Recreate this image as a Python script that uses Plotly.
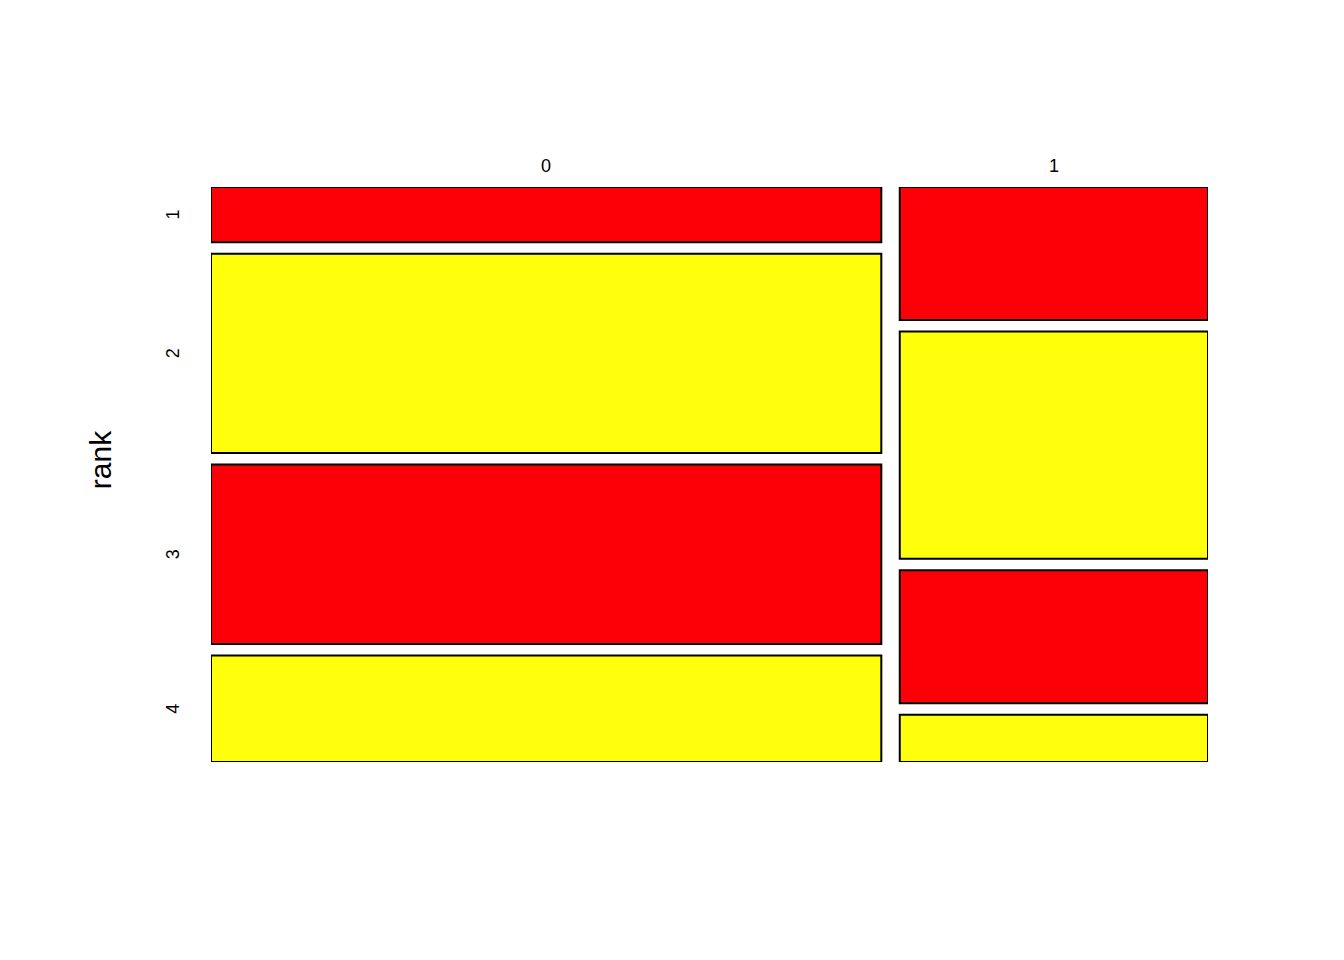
import plotly.graph_objects as go

# Data (read from the mosaic): rows = rank, columns = admit
admit_levels = ["0", "1"]
rank_levels = ["1", "2", "3", "4"]
counts_admit0 = [28, 101, 91, 54]
counts_admit1 = [31, 53, 31, 11]
fill_colors = ["#FD0007", "#FFFF0C", "#FD0007", "#FFFF0C"]

table = [counts_admit0, counts_admit1]
N = sum(sum(c) for c in table)
gap_x = 0.0185
gap_y = 0.02

fig = go.Figure()
annotations = []
x0 = 0.0
for j, col in enumerate(table):
    nj = sum(col)
    w = (1 - gap_x * (len(table) - 1)) * nj / N
    y_top = 1.0
    for i, c in enumerate(col):
        h = (1 - gap_y * (len(col) - 1)) * c / nj
        fig.add_trace(go.Bar(
            x=[x0 + w / 2], y=[h], base=[y_top - h], width=[w],
            marker=dict(color=fill_colors[i], line=dict(color="black", width=2)),
            showlegend=False, cliponaxis=False, hoverinfo="skip",
        ))
        if j == 0:
            annotations.append(dict(
                x=0, xref="paper", xshift=-38, y=y_top - h / 2, yref="y",
                text=rank_levels[i], showarrow=False, textangle=-90,
                font=dict(size=18, color="black"), xanchor="center", yanchor="middle",
            ))
        y_top -= h + gap_y
    annotations.append(dict(
        x=x0 + w / 2, xref="x", y=1, yref="paper", yshift=21,
        text=admit_levels[j], showarrow=False,
        font=dict(size=18, color="black"), xanchor="center", yanchor="middle",
    ))
    x0 += w + gap_x

annotations.append(dict(
    x=0, xref="paper", xshift=-111, y=0.525, yref="paper",
    text="rank", showarrow=False, textangle=-90,
    font=dict(size=30, color="black"), xanchor="center", yanchor="middle",
))

fig.update_layout(
    width=1344, height=960,
    margin=dict(l=211, r=136, t=187, b=198),
    paper_bgcolor="white", plot_bgcolor="white",
    barmode="overlay",
    font=dict(family="Liberation Sans, Arial, sans-serif"),
    xaxis=dict(range=[0, 1], visible=False, fixedrange=True),
    yaxis=dict(range=[0, 1], visible=False, fixedrange=True),
    annotations=annotations,
)

fig.write_html("out.html", config={"displayModeBar": False})
